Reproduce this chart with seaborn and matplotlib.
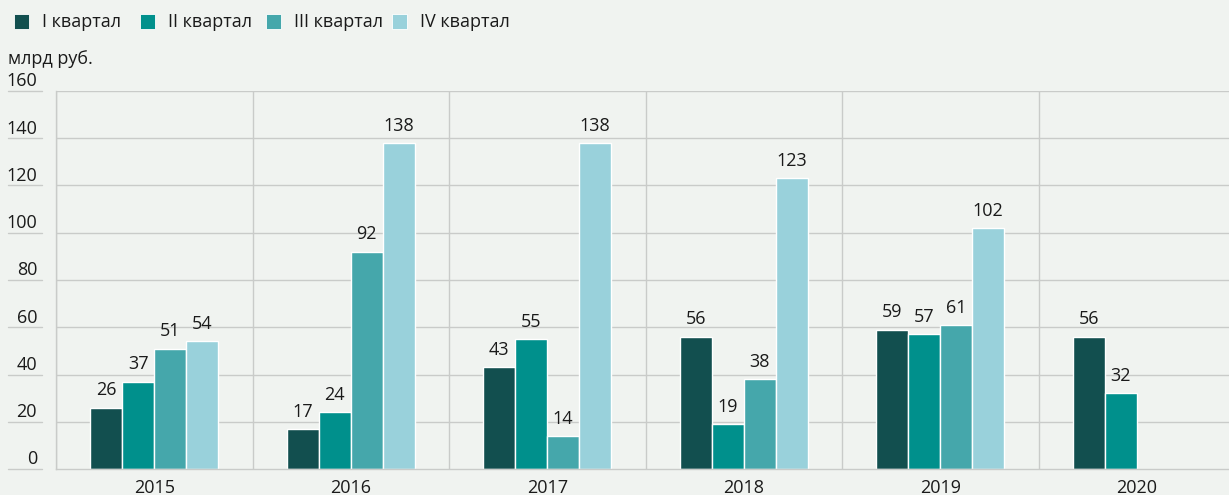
import pandas as pd
import matplotlib.pyplot as plt
import matplotlib.transforms as mtransforms
from matplotlib.patches import Rectangle
import seaborn as sns
import numpy as np

# ==========================================
# Данные
# ==========================================
YEARS = ['2015', '2016', '2017', '2018', '2019', '2020']
QUARTERS = ['I квартал', 'II квартал', 'III квартал', 'IV квартал']
Q1 = [26, 17, 43, 56, 59, 56]
Q2 = [37, 24, 55, 19, 57, 32]
Q3 = [51, 92, 14, 38, 61, np.nan]
Q4 = [54, 138, 138, 123, 102, np.nan]
Y_TICKS = [0, 20, 40, 60, 80, 100, 120, 140, 160]
UNIT = 'млрд руб.'

COLORS = ['#124f4f', '#00908c', '#45a7ab', '#99d1db']
BG = '#f0f3f0'
GRID = '#c9cbc9'
TEXT = '#1a1a1a'
FS = 13

df = pd.DataFrame({'year': YEARS * 4,
                   'quarter': [q for q in QUARTERS for _ in YEARS],
                   'value': Q1 + Q2 + Q3 + Q4})

sns.set_theme(style='white')
plt.rcParams['font.family'] = ['Open Sans', 'DejaVu Sans']

W, H = 1229, 495
fig = plt.figure(figsize=(W / 100, H / 100), dpi=100, facecolor=BG)
# оси немного выходят за правый край, как в оригинале
left, right, bottom, top = 56, 1235, 469, 91
ax = fig.add_axes([left / W, 1 - bottom / H, (right - left) / W, (bottom - top) / H])
ax.set_facecolor(BG)

sns.barplot(data=df, x='year', y='value', hue='quarter', hue_order=QUARTERS,
            order=YEARS, palette=COLORS, width=0.65, edgecolor='white',
            linewidth=1.0, saturation=1, legend=False, ax=ax)

for cont in ax.containers:
    labels = ['' if np.isnan(v) else f'{v:.0f}' for v in cont.datavalues]
    ax.bar_label(cont, labels=labels, padding=6, fontsize=FS, color=TEXT)

ax.set_xlim(-0.5, 5.5)
ax.set_ylim(0, 160)
ax.set_xlabel('')
ax.set_ylabel('')
ax.set_yticks(Y_TICKS)
ax.set_yticklabels([])
ax.tick_params(axis='y', length=0)
ax.tick_params(axis='x', length=0, labelsize=FS, labelcolor=TEXT, pad=7)

# горизонтальная сетка
for v in Y_TICKS[1:]:
    ax.axhline(v, color=GRID, lw=1, zorder=0)
# вертикальные разделители между годами
for i in range(len(YEARS) + 1):
    ax.axvline(i - 0.5, color=GRID, lw=1, zorder=0)

for s in ['top', 'right']:
    ax.spines[s].set_visible(False)
for s in ['left', 'bottom']:
    ax.spines[s].set_color(GRID)
    ax.spines[s].set_linewidth(1)

# подписи оси Y слева, над короткой линией
trans = mtransforms.blended_transform_factory(ax.transAxes, ax.transData)
x0 = (8 - left) / (right - left)
x1 = (42 - left) / (right - left)
xr = (37 - left) / (right - left)
for v in Y_TICKS:
    ax.plot([x0, x1], [v, v], color=GRID, lw=1, transform=trans, clip_on=False)
    ax.text(xr, v + 2, str(v), transform=trans, ha='right', va='baseline',
            fontsize=FS, color=TEXT)

fig.text(8 / W, 1 - 64 / H, UNIT, ha='left', va='baseline', fontsize=FS, color=TEXT)

# легенда: квадраты с шагом 126 px
for i, (q, c) in enumerate(zip(QUARTERS, COLORS)):
    x = 14 + 126 * i
    fig.patches.append(Rectangle((x / W, 1 - 29 / H), 15 / W, 15 / H,
                                 transform=fig.transFigure, facecolor=c,
                                 edgecolor='white', lw=0.6))
    fig.text((x + 28) / W, 1 - 22 / H, q, ha='left', va='center',
             fontsize=FS, color=TEXT)

fig.savefig('out.png', dpi=100, facecolor=BG)
